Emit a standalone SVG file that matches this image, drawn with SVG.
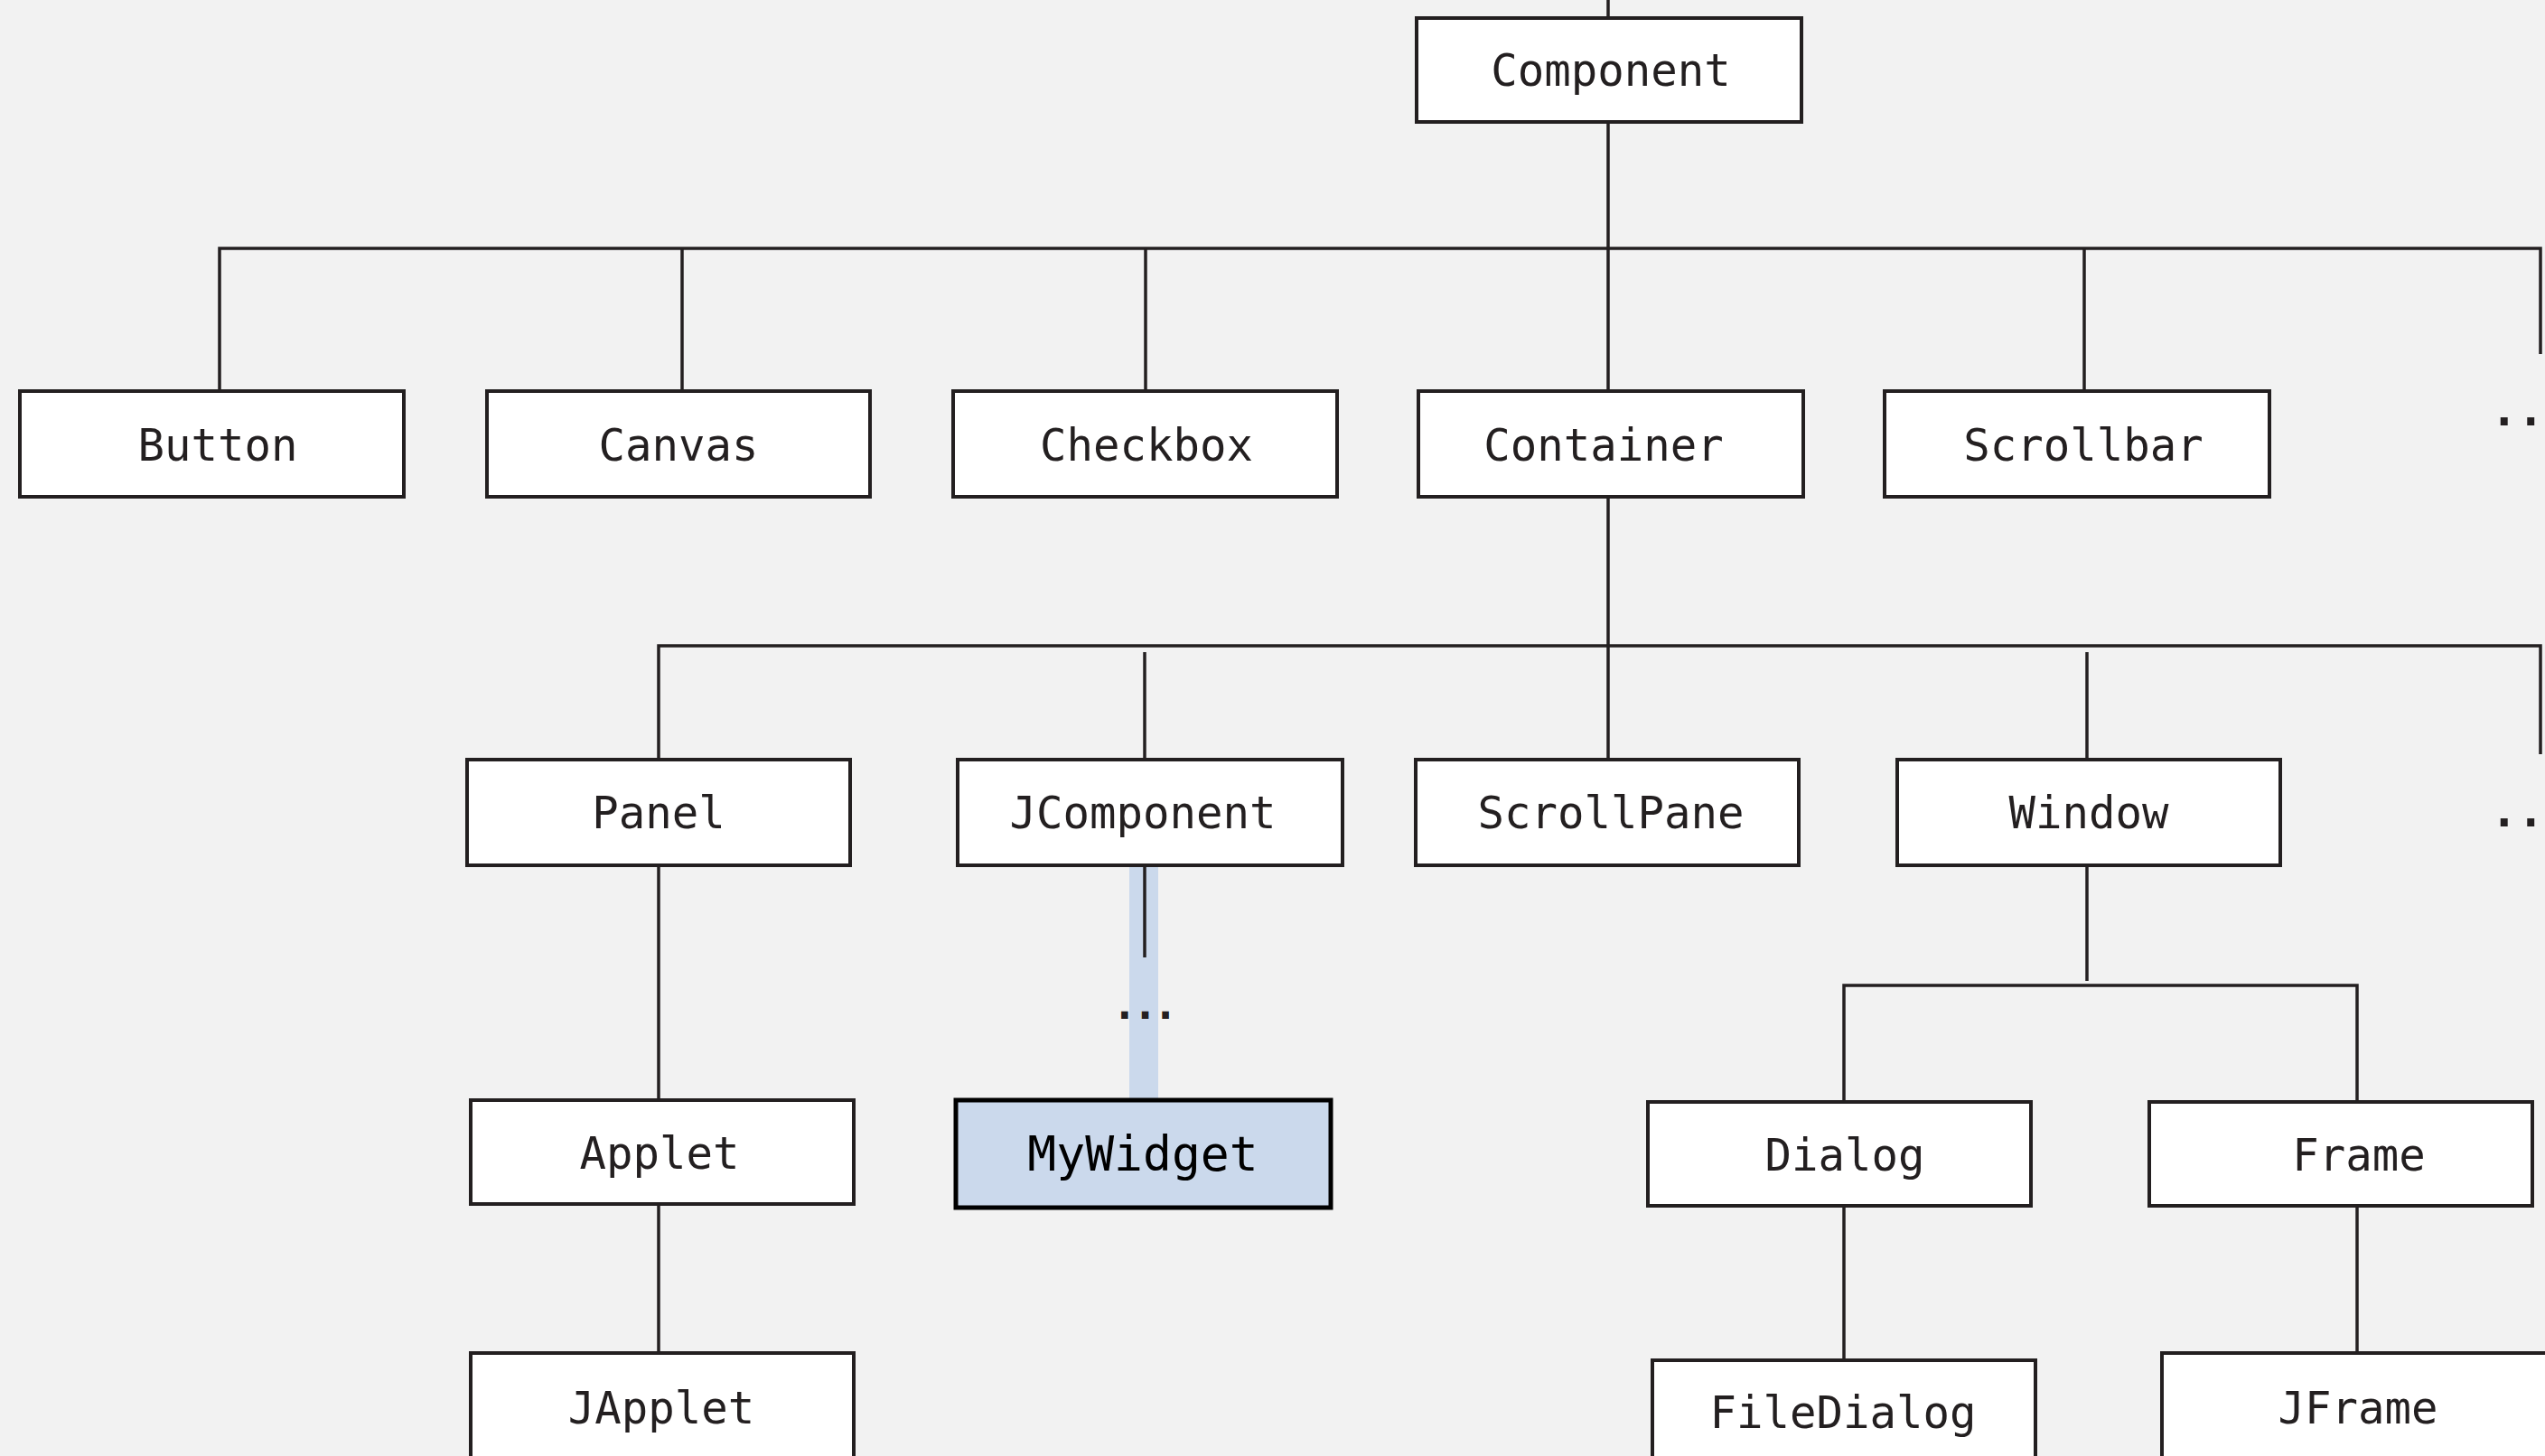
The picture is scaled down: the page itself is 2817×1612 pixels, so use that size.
<svg xmlns="http://www.w3.org/2000/svg" width="2817" height="1612" viewBox="0 0 2817 1612">
<style>
.box{fill:#ffffff;stroke:#231f20;stroke-width:4}
.hl{fill:#cbd9ec;stroke:#000000;stroke-width:5}
.lbl{font-family:"DejaVu Sans Mono","Liberation Mono",monospace;font-size:49px;fill:#231f20;text-anchor:middle}
.lblhl{font-family:"DejaVu Sans Mono","Liberation Mono",monospace;font-size:53px;fill:#000000;text-anchor:middle}
.dots{font-family:"DejaVu Sans Mono","Liberation Mono",monospace;font-weight:bold;fill:#231f20}
.ln{fill:none;stroke:#231f20;stroke-width:3.5}
</style>
<rect x="0" y="0" width="2817" height="1612" fill="#f2f2f2"/>
<rect x="1250" y="958" width="32" height="260" fill="#cbd9ec"/>
<g id="connectors">
<path class="ln" d="M1780 0 V18"/>
<path class="ln" d="M1780 135 V433"/>
<path class="ln" d="M243 433 V275 H2812 V392"/>
<path class="ln" d="M755 275 V433"/>
<path class="ln" d="M1268 275 V433"/>
<path class="ln" d="M2307 275 V433"/>
<path class="ln" d="M1780 550 V841"/>
<path class="ln" d="M729 841 V715 H2812 V835"/>
<path class="ln" d="M1267 722 V841"/>
<path class="ln" d="M2310 722 V841"/>
<path class="ln" d="M1267 958 V1060"/>
<path class="ln" d="M729 958 V1218"/>
<path class="ln" d="M729 1333 V1498"/>
<path class="ln" d="M2310 958 V1086"/>
<path class="ln" d="M2041 1220 V1091 H2609 V1220"/>
<path class="ln" d="M2041 1335 V1506"/>
<path class="ln" d="M2609 1335 V1498"/>
</g>
<g id="component"><rect class="box" x="1568" y="20" width="426" height="115"/><text class="lbl" x="1783" y="95">Component</text></g>
<g id="button"><rect class="box" x="22" y="433" width="425" height="117"/><text class="lbl" x="241" y="510">Button</text></g>
<g id="canvas"><rect class="box" x="539" y="433" width="424" height="117"/><text class="lbl" x="751" y="510">Canvas</text></g>
<g id="checkbox"><rect class="box" x="1055" y="433" width="425" height="117"/><text class="lbl" x="1269" y="510">Checkbox</text></g>
<g id="container"><rect class="box" x="1570" y="433" width="426" height="117"/><text class="lbl" x="1775" y="510">Container</text></g>
<g id="scrollbar"><rect class="box" x="2086" y="433" width="426" height="117"/><text class="lbl" x="2306" y="510">Scrollbar</text></g>
<g id="more1"><text class="dots" x="2757" y="471" font-size="49">..</text></g>
<g id="panel"><rect class="box" x="517" y="841" width="424" height="117"/><text class="lbl" x="729" y="917">Panel</text></g>
<g id="jcomponent"><rect class="box" x="1060" y="841" width="426" height="117"/><text class="lbl" x="1265" y="917">JComponent</text></g>
<g id="scrollpane"><rect class="box" x="1567" y="841" width="424" height="117"/><text class="lbl" x="1783" y="917">ScrollPane</text></g>
<g id="window"><rect class="box" x="2100" y="841" width="424" height="117"/><text class="lbl" x="2312" y="917">Window</text></g>
<g id="more2"><text class="dots" x="2757" y="915" font-size="49">..</text></g>
<g id="more3"><text class="dots" x="1265" y="1128" font-size="46" letter-spacing="-5" text-anchor="middle">...</text></g>
<g id="applet"><rect class="box" x="521" y="1218" width="424" height="115"/><text class="lbl" x="730" y="1294">Applet</text></g>
<g id="mywidget"><rect class="hl" x="1058" y="1218" width="415" height="119"/><text class="lblhl" x="1265" y="1296">MyWidget</text></g>
<g id="dialog"><rect class="box" x="1824" y="1220" width="424" height="115"/><text class="lbl" x="2042" y="1296">Dialog</text></g>
<g id="frame"><rect class="box" x="2379" y="1220" width="424" height="115"/><text class="lbl" x="2611" y="1296">Frame</text></g>
<g id="japplet"><rect class="box" x="521" y="1498" width="424" height="140"/><text class="lbl" x="732" y="1576">JApplet</text></g>
<g id="filedialog"><rect class="box" x="1829" y="1506" width="424" height="140"/><text class="lbl" x="2040" y="1581">FileDialog</text></g>
<g id="jframe"><rect class="box" x="2393" y="1498" width="440" height="140"/><text class="lbl" x="2610" y="1576">JFrame</text></g>
</svg>
